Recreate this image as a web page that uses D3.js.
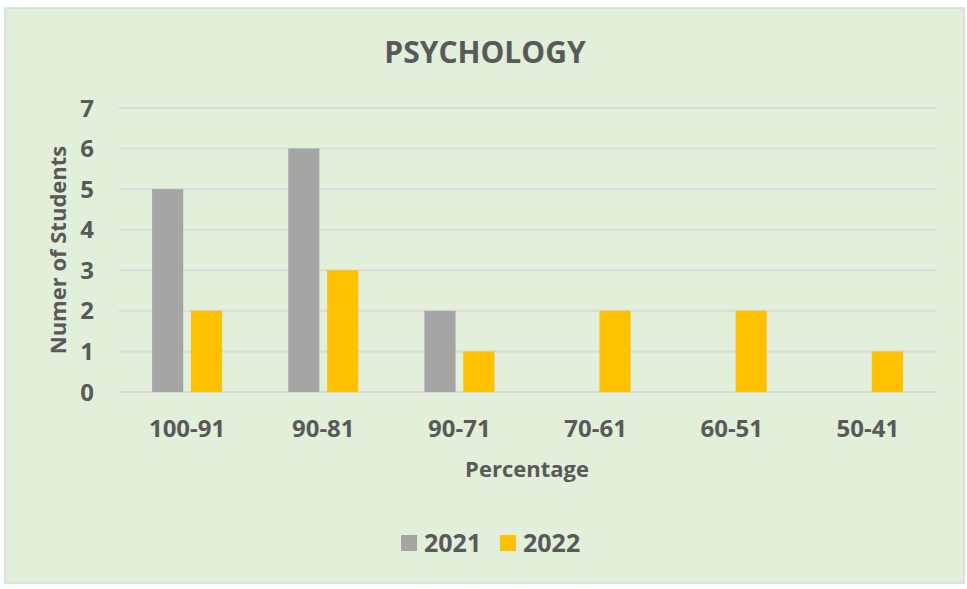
<!DOCTYPE html>
<html>
  <head>
    <script src="https://cdnjs.cloudflare.com/ajax/libs/d3/7.8.5/d3.min.js"></script>
    <style>
      body { margin: 0; background: #fff; }
      svg text { font-family: "Open Sans", "DejaVu Sans", sans-serif; fill: #595959; font-weight: bold; }
      .grid line { stroke: #d9d9d9; stroke-width: 2; }
    </style>
  </head>
  <body>
    <svg width="967" height="589"></svg>
    <script>
      // chart data
      var categories = ["100-91", "90-81", "90-71", "70-61", "60-51", "50-41"];
      var years = ["2021", "2022"];
      var values2021 = [5, 6, 2, 0, 0, 0];
      var values2022 = [2, 3, 1, 2, 2, 1];
      var yTicks = [0, 1, 2, 3, 4, 5, 6, 7];
      var colors = ["#a5a5a5", "#ffc000"];

      var svg = d3.select("svg");

      // background panel
      svg.append("rect")
        .attr("x", 5).attr("y", 8)
        .attr("width", 959).attr("height", 575)
        .attr("fill", "#e2efda")
        .attr("stroke", "#d9d9d9")
        .attr("stroke-width", 1.5);

      var plotL = 119, plotR = 936, plotT = 108, plotB = 392;

      var x0 = d3.scaleBand().domain(categories).range([plotL, plotR])
        .paddingInner(0.486).paddingOuter(0.243);
      var x1 = d3.scaleBand().domain(years).range([0, x0.bandwidth()]).paddingInner(0.2);
      var y = d3.scaleLinear().domain([0, 7]).range([plotB, plotT]);

      // gridlines
      svg.append("g").attr("class", "grid")
        .selectAll("line").data(yTicks).enter().append("line")
        .attr("x1", plotL).attr("x2", plotR)
        .attr("y1", d => y(d)).attr("y2", d => y(d));

      // y tick labels
      svg.append("g").selectAll("text").data(yTicks).enter().append("text")
        .attr("x", 94).attr("y", d => y(d))
        .attr("dy", "0.36em")
        .attr("text-anchor", "end")
        .style("font-size", "24px")
        .text(d => d);

      // bars
      var rows = categories.map((c, i) => ({ cat: c, vals: [values2021[i], values2022[i]] }));
      var groups = svg.append("g").selectAll("g").data(rows).enter().append("g")
        .attr("transform", d => "translate(" + x0(d.cat) + ",0)");
      groups.selectAll("rect")
        .data(d => d.vals.map((v, j) => ({ year: years[j], v: v, j: j })))
        .enter().append("rect")
        .filter(d => d.v > 0)
        .attr("x", d => x1(d.year))
        .attr("width", x1.bandwidth())
        .attr("y", d => y(d.v))
        .attr("height", d => y(0) - y(d.v))
        .attr("fill", d => colors[d.j]);

      // x tick labels
      svg.append("g").selectAll("text").data(categories).enter().append("text")
        .attr("x", d => x0(d) + x0.bandwidth() / 2)
        .attr("y", 437)
        .attr("text-anchor", "middle")
        .style("font-size", "24px")
        .text(d => d);

      // title
      svg.append("text")
        .attr("x", 485).attr("y", 63)
        .attr("text-anchor", "middle")
        .style("font-size", "30px")
        .text("PSYCHOLOGY");

      // axis titles
      svg.append("text")
        .attr("x", 527).attr("y", 477)
        .attr("text-anchor", "middle")
        .style("font-size", "22px")
        .text("Percentage");
      svg.append("text")
        .attr("transform", "translate(66," + ((plotT + plotB) / 2) + ") rotate(-90)")
        .attr("text-anchor", "middle")
        .style("font-size", "22px")
        .text("Numer of Students");

      // legend
      var legend = svg.append("g").selectAll("g").data(years).enter().append("g")
        .attr("transform", (d, i) => "translate(" + (401 + i * 99) + ",535)");
      legend.append("rect")
        .attr("width", 16).attr("height", 16)
        .attr("fill", (d, i) => colors[i]);
      legend.append("text")
        .attr("x", 23).attr("y", 17)
        .style("font-size", "25px")
        .text(d => d);
    </script>
  </body>
</html>
